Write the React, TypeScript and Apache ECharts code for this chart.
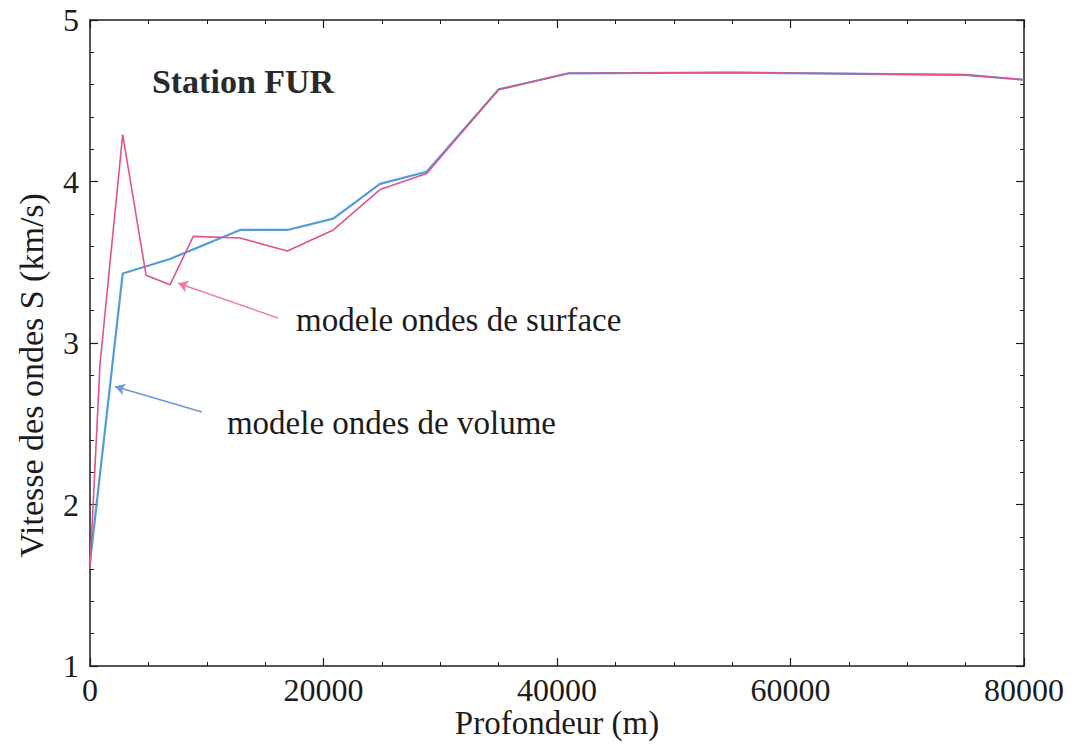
import React, { useEffect, useRef } from "react";
import * as echarts from "echarts";

// Depth (m) and S-wave velocity (km/s)
const surfaceDepth = [0, 857, 2800, 4800, 6850, 8850, 12850, 16900, 20840, 24840, 28840, 35000, 41000, 55000, 75000, 80000];
const surfaceVs = [1.6, 2.87, 4.29, 3.42, 3.36, 3.66, 3.65, 3.57, 3.7, 3.95, 4.05, 4.57, 4.67, 4.675, 4.66, 4.63];

const volumeDepth = [0, 2800, 6850, 12850, 16900, 20840, 24840, 28840, 35000, 41000, 55000, 75000, 80000];
const volumeVs = [1.64, 3.43, 3.52, 3.7, 3.7, 3.77, 3.985, 4.06, 4.57, 4.67, 4.675, 4.66, 4.63];

const xTickValues = [0, 20000, 40000, 60000, 80000];
const yTickValues = [1, 2, 3, 4, 5];

const titleText = "Station FUR";
const xName = "Profondeur (m)";
const yName = "Vitesse des ondes S (km/s)";
const surfaceLabel = "modele ondes de surface";
const volumeLabel = "modele ondes de volume";

// annotation anchors in data coordinates
const surfaceArrow = [[16100, 3.155], [7540, 3.37]];
const volumeArrow = [[9590, 2.573], [2140, 2.73]];
const surfaceTextAt = [17650, 3.14];
const volumeTextAt = [11730, 2.505];
const titleAt = [5300, 4.62];
const xNameAt = [40000, 0.65];
const yNameAt = [-5000, 2.8];

const FONT = "Liberation Serif";
const PINK = "#e2538d";
const BLUE = "#4f9edb";
const INK = "#1c1c1c";

export default function App() {
  const ref = useRef<HTMLDivElement>(null);
  useEffect(() => {
    const chart = echarts.init(ref.current!, null, { renderer: "svg" });
    const axisLine = { show: true, onZero: false, lineStyle: { color: INK, width: 1.5 } };
    const xBase = {
      type: "value",
      min: xTickValues[0],
      max: xTickValues[xTickValues.length - 1],
      interval: 20000,
      axisLine,
      axisTick: { show: true, inside: true, length: 8, lineStyle: { color: INK, width: 1.2 } },
      minorTick: { show: true, splitNumber: 4, length: 4, lineStyle: { color: INK, width: 1 } },
      splitLine: { show: false },
      minorSplitLine: { show: false },
    };
    const yBase = {
      type: "value",
      min: yTickValues[0],
      max: yTickValues[yTickValues.length - 1],
      interval: 1,
      axisLine,
      axisTick: { show: true, inside: true, length: 8, lineStyle: { color: INK, width: 1.2 } },
      minorTick: { show: true, splitNumber: 5, length: 4, lineStyle: { color: INK, width: 1 } },
      splitLine: { show: false },
      minorSplitLine: { show: false },
    };
    const labelStyle = { fontFamily: FONT, fontSize: 32, color: INK };
    chart.setOption({
      animation: false,
      backgroundColor: "#ffffff",
      textStyle: { fontFamily: FONT },
      grid: { left: 90, right: 47, top: 20, bottom: 78, containLabel: false },
      xAxis: [
        { ...xBase, position: "bottom", axisLabel: { ...labelStyle, margin: 8, formatter: (v: number) => String(v) } },
        { ...xBase, position: "top", axisLabel: { show: false } },
      ],
      yAxis: [
        { ...yBase, position: "left", axisLabel: { ...labelStyle, margin: 11, formatter: (v: number) => String(v) } },
        { ...yBase, position: "right", axisLabel: { show: false } },
      ],
      series: [
        {
          name: "volume",
          type: "line",
          xAxisIndex: 0,
          yAxisIndex: 0,
          showSymbol: false,
          data: volumeDepth.map((d, i) => [d, volumeVs[i]]),
          lineStyle: { color: BLUE, width: 2.2 },
          itemStyle: { color: BLUE },
          markLine: {
            silent: true,
            symbol: ["none", "arrow"],
            symbolSize: [9, 10],
            label: { show: false },
            lineStyle: { color: "#6b98dc", width: 1.6, type: "solid" },
            data: [[{ coord: volumeArrow[0] }, { coord: volumeArrow[1] }]],
          },
        },
        {
          name: "surface",
          type: "line",
          xAxisIndex: 0,
          yAxisIndex: 0,
          showSymbol: false,
          data: surfaceDepth.map((d, i) => [d, surfaceVs[i]]),
          lineStyle: { color: PINK, width: 1.6 },
          itemStyle: { color: PINK },
          markLine: {
            silent: true,
            symbol: ["none", "arrow"],
            symbolSize: [9, 10],
            label: { show: false },
            lineStyle: { color: "#ee7d9f", width: 1.4, type: "solid" },
            data: [[{ coord: surfaceArrow[0] }, { coord: surfaceArrow[1] }]],
          },
        },
      ],
    });
    const px = (p: number[]) => chart.convertToPixel({ gridIndex: 0 }, p) as number[];
    const st = px(surfaceTextAt);
    const vt = px(volumeTextAt);
    const tt = px(titleAt);
    const xn = px(xNameAt);
    const yn = px(yNameAt);
    chart.setOption({
      graphic: [
        { type: "text", x: tt[0], y: tt[1], style: { text: titleText, fontFamily: FONT, fontSize: 34, fontWeight: "bold", fill: "#2a2a2a", align: "left", verticalAlign: "middle" } },
        { type: "text", x: st[0], y: st[1], style: { text: surfaceLabel, fontFamily: FONT, fontSize: 33, fill: INK, align: "left", verticalAlign: "middle" } },
        { type: "text", x: vt[0], y: vt[1], style: { text: volumeLabel, fontFamily: FONT, fontSize: 33, fill: INK, align: "left", verticalAlign: "middle" } },
        { type: "text", x: xn[0], y: xn[1], style: { text: xName, fontFamily: FONT, fontSize: 33, fill: INK, align: "center", verticalAlign: "middle" } },
        { type: "text", x: yn[0], y: yn[1], rotation: Math.PI / 2, style: { text: yName, fontFamily: FONT, fontSize: 34, fill: INK, align: "center", verticalAlign: "middle" } },
      ],
    });
    return () => chart.dispose();
  }, []);
  return (
    <div
      ref={ref}
      style={{ position: "fixed", left: 0, top: 0, width: 1071, height: 744, background: "#fff" }}
    />
  );
}
